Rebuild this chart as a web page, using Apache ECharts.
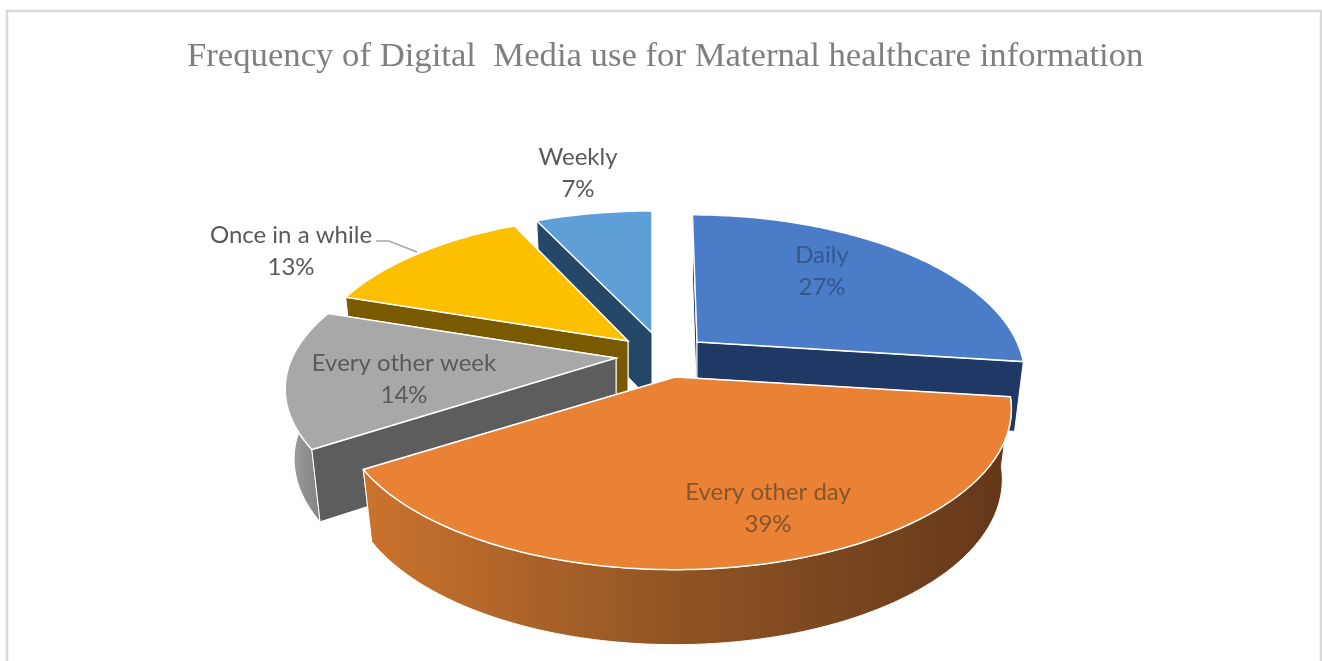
<!DOCTYPE html>
<html>
<head>
<meta charset="utf-8">
<title>Frequency of Digital Media use</title>
<script src="https://cdn.jsdelivr.net/npm/echarts@6/dist/echarts.min.js"></script>
<style>
  html, body { margin: 0; padding: 0; background: #ffffff; }
  #chart { width: 1322px; height: 661px; }
</style>
</head>
<body>
<div id="chart"></div>
<script>
// Survey shares, in percent, clockwise from twelve o'clock.
const categories = ['Daily', 'Every other day', 'Every other week', 'Once in a while', 'Weekly'];
const shares = [27, 39, 14, 13, 7];
const chartTitle = 'Frequency of Digital  Media use for Maternal healthcare information';

// Perspective of the tilted disc: radius, vertical radius, foreshortening.
const RADIUS = 320, RADIUS_Y = 152.6, FORESHORTEN = 0.2;
// The underside sits lower and slightly narrower than the top surface.
const DEPTH = 69, DEPTH_FRONT = 6, BASE_SCALE = 0.973;

// Per-slice look: exploded apex, fine scale, paint order, colours, label placement.
const sliceStyles = [
  { apex: [697, 342], sx: 1, sy: 1, shear: 0.036, bulge: 0, order: 3, top: '#4a7cc7', cut: '#203864', wall: ['#203864', '#203864'],
    labelAt: [822, 255], labelColor: '#33598f' },
  { apex: [675, 377], sx: 1.03, sy: 1.01, shear: 0, bulge: 0, order: 5, top: '#ea8236', cut: '#b0622a', wall: ['#cb732d', '#8e5323', '#63371a'],
    labelAt: [768, 492], labelColor: '#87552c' },
  { apex: [616, 358], sx: 1.005, sy: 1, shear: 0, bulge: 0.008, order: 4, top: '#a8a8a8', cut: '#5d5d5d', wall: ['#a2a2a2', '#838383'],
    labelAt: [404, 363], labelColor: '#5a5a5a' },
  { apex: [628, 341], sx: 0.985, sy: 0.985, shear: 0, bulge: 0, order: 2, top: '#fcc000', cut: '#7a5a00', wall: ['#7a5a00', '#7a5a00'],
    labelAt: [291, 235], labelColor: '#595959' },
  { apex: [652, 333], sx: 1, sy: 0.96, shear: 0, bulge: 0, order: 1, top: '#5f9fd8', cut: '#254768', wall: ['#254768', '#254768'],
    labelAt: [578, 157], labelColor: '#595959' }
];
const LABEL_LINE_GAP = 32;
const LABEL_FONT = '24px Lato, "Open Sans", sans-serif';
const LEADER_INDEX = 3;
const LEADER_POINTS = [[376, 241], [389, 241], [417, 252]];
// The rim wall is drawn only where it can face the viewer.
const WALL_MAX_V = 0.1;

// Cumulative start angle of every slice, in degrees.
const total = shares.reduce((a, b) => a + b, 0);
const startAngles = [];
shares.reduce((sum, v, i) => { startAngles[i] = sum / total * 360; return sum + v; }, 0);

// Project an angle on the rim of a slice to the page.
function rimPoint(deg, st, swell) {
  const t = deg * Math.PI / 180, u = Math.sin(t), v = Math.cos(t);
  const s = (1 + swell) / (1 + FORESHORTEN * v);
  const dx = RADIUS * u * s * st.sx;
  const dy = -RADIUS_Y * v * s * st.sy;
  return { x: st.apex[0] + dx + st.shear * dy, y: st.apex[1] + dy, v };
}

// Same location on the underside of the slice.
function lower(p, st) {
  return [st.apex[0] + (p.x - st.apex[0]) * BASE_SCALE, p.y + DEPTH - DEPTH_FRONT * p.v];
}

function gradient(stops) {
  return new echarts.graphic.LinearGradient(0, 0, 1, 0,
    stops.map((color, i) => ({ offset: i / (stops.length - 1), color })));
}

function renderSlice(params, api) {
  const i = api.value(0), value = api.value(1);
  const st = sliceStyles[i];
  const from = startAngles[i], to = from + value / total * 360;
  const rim = [];
  const steps = Math.max(12, Math.round(to - from));
  for (let k = 0; k <= steps; k++) {
    const f = k / steps;
    rim.push(rimPoint(from + (to - from) * f, st, st.bulge * Math.sin(Math.PI * f)));
  }

  const apexPoint = { x: st.apex[0], y: st.apex[1], v: 0 };
  const baseZ = st.order * 10;
  const poly = (points, style, z) => ({
    type: 'polygon', shape: { points },
    style: Object.assign({ stroke: '#ffffff', lineWidth: 1 }, style), z2: baseZ + z
  });
  const cutFace = (p) => [[apexPoint.x, apexPoint.y], [p.x, p.y], lower(p, st), lower(apexPoint, st)];
  const topPoints = [[apexPoint.x, apexPoint.y]].concat(rim.map(p => [p.x, p.y]));

  // A cut face turns toward the viewer when its edge lies on the near side of the slice:
  // faces turned away go under the rim wall, the others over it.
  const first = rim[0], last = rim[rim.length - 1];
  const startFaces = (from % 360) >= 180;
  const endFaces = (to % 360) > 0 && (to % 360) < 180;

  const children = [];
  if (!startFaces) children.push(poly(cutFace(first), { fill: st.cut }, 0));
  if (!endFaces) children.push(poly(cutFace(last), { fill: st.cut }, 1));

  const visibleRim = rim.filter(p => p.v <= WALL_MAX_V);
  if (visibleRim.length > 1) {
    const wallPoints = visibleRim.map(p => [p.x, p.y])
      .concat(visibleRim.slice().reverse().map(p => lower(p, st)));
    children.push(poly(wallPoints, { fill: gradient(st.wall) }, 2));
  }
  if (startFaces) children.push(poly(cutFace(first), { fill: st.cut }, 3));
  if (endFaces) children.push(poly(cutFace(last), { fill: st.cut }, 4));
  children.push(poly(topPoints, { fill: st.top, lineWidth: 1.5 }, 5));

  const text = (content, y) => ({
    type: 'text', z2: 100,
    style: {
      text: content, x: st.labelAt[0], y, fill: st.labelColor, font: LABEL_FONT,
      textAlign: 'center', textVerticalAlign: 'middle'
    }
  });
  children.push(text(categories[i], st.labelAt[1]));
  children.push(text(value + '%', st.labelAt[1] + LABEL_LINE_GAP));

  if (i === LEADER_INDEX) {
    children.push({
      type: 'polyline', z2: 100, shape: { points: LEADER_POINTS },
      style: { stroke: '#a6a6a6', lineWidth: 1.5, fill: null }
    });
  }
  return { type: 'group', children };
}

const chart = echarts.init(document.getElementById('chart'), null, { renderer: 'canvas' });
chart.setOption({
  animation: false,
  backgroundColor: '#ffffff',
  title: {
    text: chartTitle,
    left: 182,
    top: 34,
    textStyle: {
      fontFamily: '"Liberation Serif", serif',
      fontWeight: 'normal',
      fontSize: 34.7,
      color: '#7f7f7f'
    }
  },
  graphic: [{
    type: 'rect',
    shape: { x: 7, y: 11, width: 1314, height: 720 },
    style: { fill: 'none', stroke: '#d9d9d9', lineWidth: 2.5 },
    silent: true
  }],
  series: [{
    type: 'custom',
    coordinateSystem: 'none',
    renderItem: renderSlice,
    data: categories.map((name, i) => ({ name, value: [i, shares[i]] }))
  }]
});
</script>
</body>
</html>
